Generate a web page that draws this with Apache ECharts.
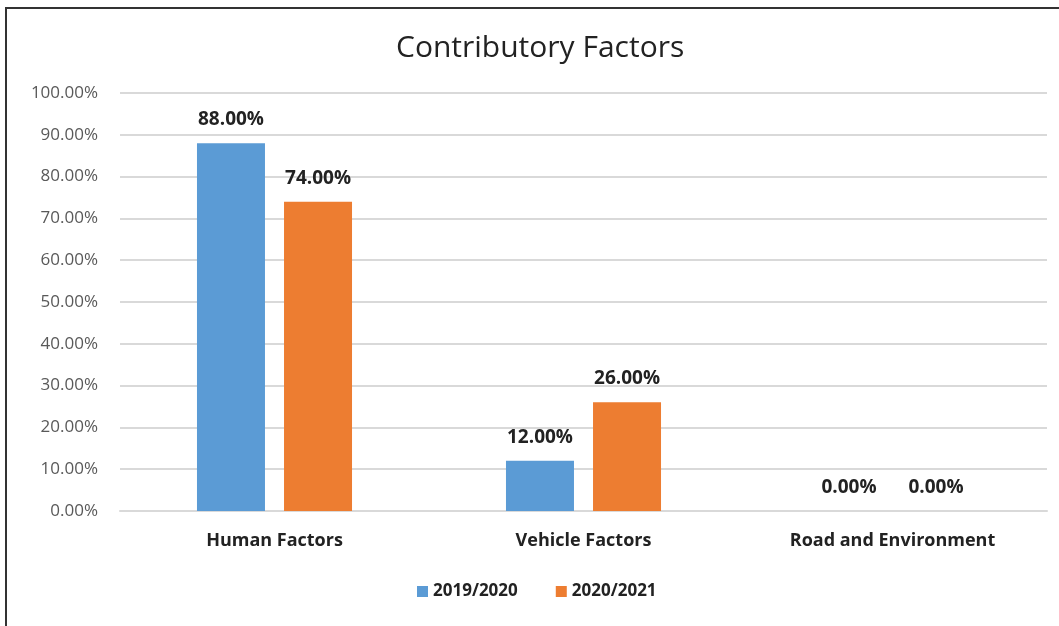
<!DOCTYPE html>
<html>
<head>
<meta charset="utf-8">
<script src="https://cdn.jsdelivr.net/npm/echarts@6/dist/echarts.min.js"></script>
<style>
	html, body { margin: 0; padding: 0; background: #fff; }
	#frame { position: absolute; left: 5px; top: 7px; width: 1054px; height: 619px; border-top: 2px solid #333; border-left: 2px solid #333; }
	#container { position: absolute; left: 0; top: 0; width: 1059px; height: 626px; }
</style>
</head>
<body>
<div id="frame"></div>
<div id="container"></div>
<script>
	var categories = ['Human Factors', 'Vehicle Factors', 'Road and Environment'];
	var seriesNames = ['2019/2020', '2020/2021'];
	var values2019 = [88, 12, 0];
	var values2020 = [74, 26, 0];
	var colors = ['#5B9BD5', '#ED7D31'];

	var font = '"Open Sans", sans-serif';

	// 数据标签
	var label = {
		show: true,
		position: 'top',
		distance: 14,
		fontFamily: font,
		fontSize: 19,
		fontWeight: 'bold',
		color: '#222',
		formatter: function (p) { return p.value.toFixed(2) + '%'; }
	};

	var option = {
		animation: false,
		color: colors,
		title: {
			text: 'Contributory Factors',
			left: 391,
			top: 28,
			textStyle: { fontFamily: font, fontSize: 30, fontWeight: 'normal', color: '#222' }
		},
		legend: {
			data: seriesNames,
			bottom: 21,
			left: 412,
			itemWidth: 11,
			itemHeight: 11,
			itemGap: 38,
			icon: 'rect',
			textStyle: { fontFamily: font, fontSize: 17, fontWeight: 'bold', color: '#222' }
		},
		grid: {
			left: 120,
			right: 12,
			top: 93,
			bottom: 115
		},
		xAxis: {
			type: 'category',
			data: categories,
			axisLine: { lineStyle: { color: '#d9d9d9', width: 2 } },
			axisTick: { show: false },
			axisLabel: { margin: 21, fontFamily: font, fontSize: 18, fontWeight: 'bold', color: '#222' }
		},
		yAxis: {
			type: 'value',
			min: 0,
			max: 100,
			interval: 10,
			axisLine: { show: false },
			axisTick: { show: false },
			splitLine: { lineStyle: { color: '#d9d9d9', width: 2 } },
			axisLabel: {
				margin: 22,
				fontFamily: font,
				fontSize: 17,
				color: '#595959',
				formatter: function (v) { return v.toFixed(2) + '%'; }
			}
		},
		series: [
			{ name: seriesNames[0], type: 'bar', data: values2019, barWidth: 68, barGap: '28%', label: label },
			{ name: seriesNames[1], type: 'bar', data: values2020, barWidth: 68, barGap: '28%', label: label }
		]
	};

	var myChart = echarts.init(document.getElementById('container'));
	myChart.setOption(option);
</script>
</body>
</html>
